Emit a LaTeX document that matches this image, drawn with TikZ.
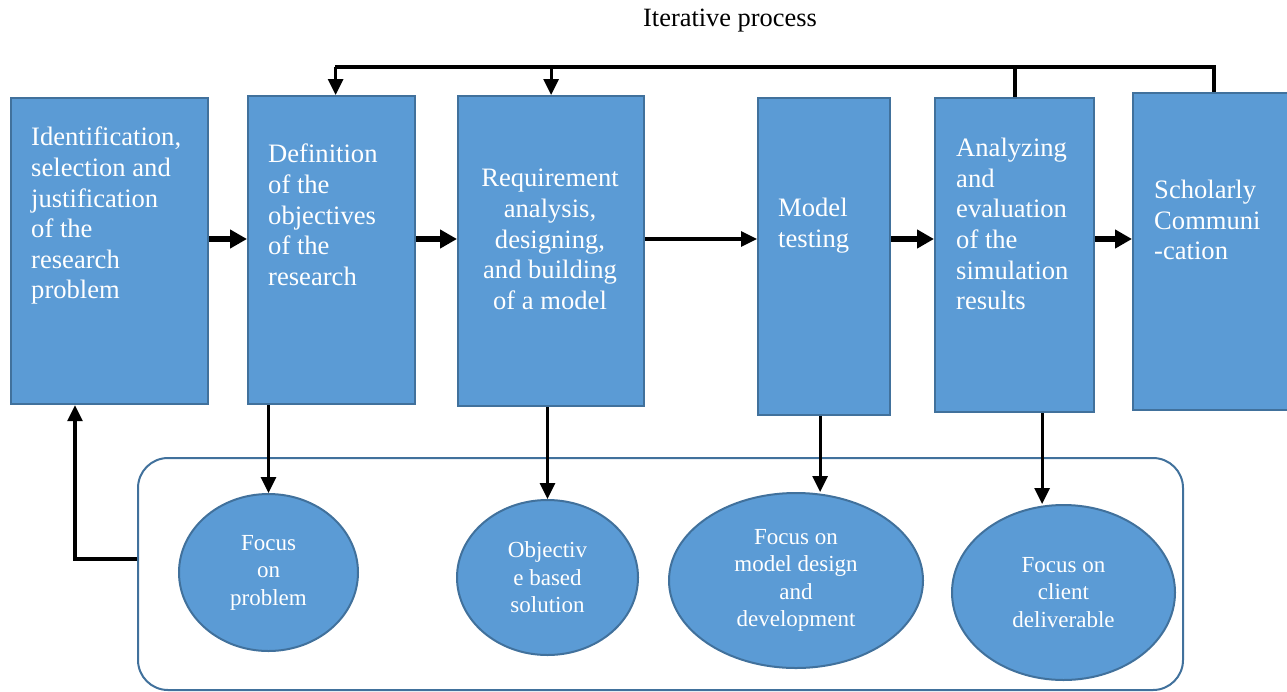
\documentclass[tikz,border=0pt]{standalone}
\usepackage{fontspec}
\setmainfont{Liberation Serif}
\usetikzlibrary{arrows.meta,shapes.geometric}
\definecolor{boxblue}{HTML}{5B9BD5}
\definecolor{edgeblue}{HTML}{41719C}

\begin{document}
\begin{tikzpicture}[x=1pt,y=-1pt]
  \tikzstyle{stage}=[rectangle,draw=edgeblue,fill=boxblue,line width=2.2pt,anchor=north west,inner sep=0pt]
  \tikzstyle{stagetext}=[text=white,anchor=north west,inner sep=0pt,align=left,font=\fontsize{26.6}{30.6}\selectfont]
  \tikzstyle{focus}=[ellipse,draw=edgeblue,fill=boxblue,line width=2pt,inner sep=0pt,text=white,align=center,font=\fontsize{23}{27.5}\selectfont]
  \tikzstyle{fat}=[line width=6.5pt,-{Triangle[length=17pt,width=18pt]}]
  \tikzstyle{slim}=[line width=3.2pt,-{Triangle[length=16pt,width=15pt]}]
  \tikzstyle{plain}=[line width=3.8pt]
  \useasboundingbox (0,0) rectangle (1287,691);

  \node[font=\fontsize{26.4}{30}\selectfont] (title) at (730,21) {Iterative process};

  % stages
  \node[stage, minimum width=197pt, minimum height=306pt] (s1) at (10,97) {};
  \node[stage, minimum width=167pt, minimum height=308pt] (s2) at (247,95) {};
  \node[stage, minimum width=186pt, minimum height=310pt] (s3) at (457,95) {};
  \node[stage, minimum width=132pt, minimum height=317pt] (s4) at (757,97) {};
  \node[stage, minimum width=159pt, minimum height=314pt] (s5) at (934,97) {};
  \node[stage, minimum width=162pt, minimum height=317pt] (s6) at (1132,92) {};

  \node[stagetext] (t1) at (31,127) {Identification,\\selection and\\justification\\of the\\research\\problem};
  \node[stagetext] (t2) at (268,144) {Definition\\of the\\objectives\\of the\\research};
  \node[stagetext, anchor=north, align=center] (t3) at (550,169) {Requirement\\analysis,\\designing,\\and building\\of a model};
  \node[stagetext] (t4) at (778,198) {Model\\testing};
  \node[stagetext] (t5) at (956,138) {Analyzing\\and\\evaluation\\of the\\simulation\\results};
  \node[stagetext] (t6) at (1154,180) {Scholarly\\Communi\\-cation};

  % focus group
  \node[draw=edgeblue, line width=2pt, rounded corners=30pt, minimum width=1045pt, minimum height=232pt] (pool) at (660.5,574) {};
  \node[focus, minimum width=179pt, minimum height=157pt] (f1) at (268.5,572.5) {Focus\\on\\problem};
  \node[focus, minimum width=181pt, minimum height=155pt] (f2) at (547.5,577.5) {Objectiv\\e based\\solution};
  \node[focus, minimum width=254pt, minimum height=175pt] (f3) at (796,580.5) {Focus on\\model design\\and\\development};
  \node[focus, minimum width=223pt, minimum height=175pt] (f4) at (1063.5,592.5) {Focus on\\client\\deliverable};

  % edges
  \coordinate (row) at (0,239);
  \coordinate (top) at (0,67);
  \coordinate (back) at (75,559);

  \draw[fat] (s1.east |- row) -- (s2.west |- row);
  \draw[fat] (s2.east |- row) -- (s3.west |- row);
  \draw[slim] (s3.east |- row) -- (s4.west |- row);
  \draw[fat] (s4.east |- row) -- (s5.west |- row);
  \draw[fat] (s5.east |- row) -- (s6.west |- row);

  \draw[plain] (s6.north) -- (s6.north |- top) -- ([xshift=3pt]s2.north |- top);
  \draw[plain] (s5.north) -- (s5.north |- top);
  \draw[slim] ([xshift=4pt]s2.north |- top) -- ([xshift=4pt]s2.north);
  \draw[slim] (s3.north |- top) -- (s3.north);

  \draw[slim] (f1.north |- s2.south) -- (f1.north);
  \draw[slim] (f2.north |- s3.south) -- (f2.north);
  \draw[slim] ([xshift=-4pt]s4.south) -- ([xshift=-4pt]s4.south |- f3.north);
  \draw[slim] ([xshift=27.5pt]s5.south) -- ([xshift=27.5pt]s5.south |- f4.north);

  \draw[slim] (pool.west |- back) -- (back) -- (back |- s1.south);

\end{tikzpicture}
\end{document}
